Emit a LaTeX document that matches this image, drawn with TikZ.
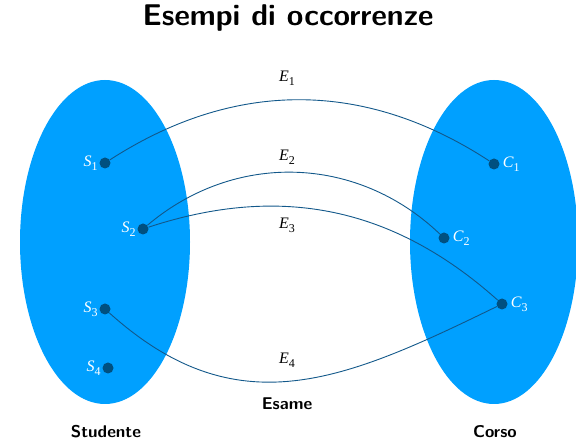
\documentclass[tikz,border=0pt]{standalone}
\usepackage{fontspec}
\newfontfamily\tms{Liberation Serif}
\newcommand\lab[2]{{\tms\itshape #1}\raisebox{-0.55ex}{\tms\fontsize{12}{12}\selectfont #2}}
\definecolor{setblue}{RGB}{0,160,255}
\definecolor{dotblue}{RGB}{0,80,128}
\definecolor{edgeblue}{RGB}{18,88,138}
\begin{document}
\begin{tikzpicture}[x=1pt,y=1pt,
  setfill/.style={fill=setblue,draw=none},
  dot/.style={circle,fill=dotblue,inner sep=0pt,minimum size=11pt},
  wlab/.style={text=white,font=\fontsize{16}{16}\selectfont},
  elab/.style={text=black,font=\fontsize{16}{16}\selectfont},
  edge/.style={draw=edgeblue,line width=0.9pt},
  sfb/.style={font=\sffamily\bfseries\fontsize{17}{20}\selectfont,anchor=base}]
\useasboundingbox (0,0) rectangle (576,442);
\fill[setfill] (105,200) ellipse [x radius=85, y radius=162];
\fill[setfill] (494,200) ellipse [x radius=84, y radius=162];
\node[anchor=base,font=\sffamily\bfseries\fontsize{30}{36}\selectfont] (title) at (288,416) {Esempi di occorrenze};
\node[dot,label={[wlab,inner sep=1.5pt]left:\lab{S}{1}}] (s1) at (105,279) {};
\node[dot,label={[wlab,inner sep=1.5pt]left:\lab{S}{2}}] (s2) at (143,213) {};
\node[dot,label={[wlab,inner sep=1.5pt]left:\lab{S}{3}}] (s3) at (105,133) {};
\node[dot,label={[wlab,inner sep=1.5pt]left:\lab{S}{4}}] (s4) at (108,74) {};
\node[dot,label={[wlab,inner sep=3pt]right:\lab{C}{1}}] (c1) at (494,278) {};
\node[dot,label={[wlab,inner sep=3pt]right:\lab{C}{2}}] (c2) at (444,204) {};
\node[dot,label={[wlab,inner sep=3pt]right:\lab{C}{3}}] (c3) at (502,138) {};
\draw[edge] (s1) to[bend left=33] (c1);
\draw[edge] (s2) to[bend left=42] (c2);
\draw[edge] (s2) to[bend left=30] (c3);
\draw[edge] (s3) to[out=-42,in=-154,looseness=1.13] (c3);
\node[elab] (e1) at (287,364) {\lab{E}{1}};
\node[elab] (e2) at (287,285) {\lab{E}{2}};
\node[elab] (e3) at (287,217) {\lab{E}{3}};
\node[elab] (e4) at (287,82) {\lab{E}{4}};
\node[sfb] (esame) at (287,32) {Esame};
\node[sfb] (stud) at (106,5) {Studente};
\node[sfb] (corso) at (495,5) {Corso};
\end{tikzpicture}
\end{document}
